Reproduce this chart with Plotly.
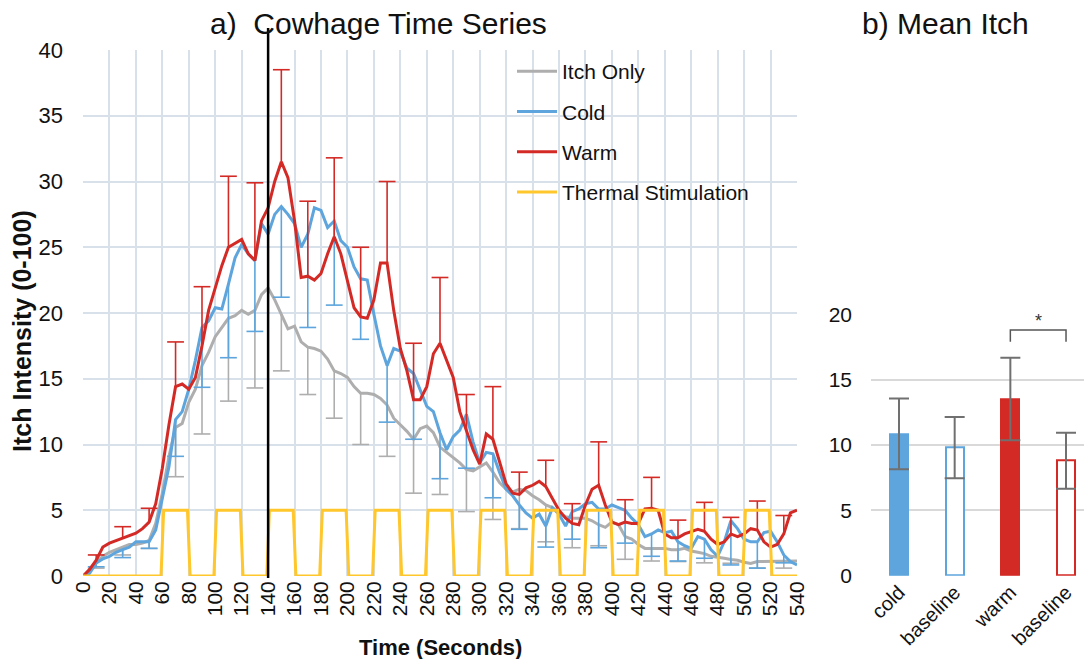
import plotly.graph_objects as go

# ---------------- data (panel a) ----------------
time_s = list(range(0, 545, 5))

itch_only = [0, 0.35, 1.0, 1.5, 1.8, 2.0, 2.2, 2.4, 2.4, 2.5,
             2.7, 4.0, 6.3, 9.1, 11.3, 11.6, 13.2, 14.2, 16.0, 17.0,
             18.2, 18.9, 19.6, 19.8, 20.2, 19.9, 20.2, 21.4, 21.9, 21.0,
             19.9, 18.8, 19.0, 17.8, 17.4, 17.3, 17.1, 16.5, 15.6, 15.4,
             15.1, 14.4, 13.9, 13.9, 13.8, 13.5, 13.0, 12.0, 11.5, 11.0,
             10.4, 11.2, 11.4, 10.9, 9.8, 9.4, 9.0, 8.6, 8.1, 8.0,
             8.3, 8.6, 7.9, 7.1, 6.6, 6.4, 6.6, 6.5, 6.1, 5.8,
             5.4, 5.2, 4.8, 4.5, 4.4, 4.4, 4.4, 4.2, 3.9, 3.7,
             4.1, 3.9, 3.0, 2.8, 2.4, 2.1, 2.1, 2.1, 2.1, 2.0,
             2.0, 2.1, 1.9, 1.8, 1.7, 1.5, 1.45, 1.35, 1.25, 1.2,
             1.05, 0.95, 1.1, 1.1, 1.15, 1.1, 1.1, 1.1, 1.14]

cold = [0, 0.2, 1.0, 1.3, 1.5, 1.8, 2.0, 2.2, 2.6, 2.6,
        2.6, 3.5, 5.8, 8.3, 11.9, 12.5, 14.2, 16.4, 18.9, 19.4,
        20.4, 20.3, 22.2, 24.2, 25.2, 24.5, 24.0, 26.8, 26.0, 27.5,
        28.1, 27.5, 26.8, 25.0, 26.0, 28.0, 27.8, 26.5, 27.0, 25.5,
        25.0, 23.5, 22.6, 22.5, 19.9, 17.5, 16.0, 17.3, 17.1, 15.8,
        15.4, 14.2, 12.9, 12.5, 10.9, 9.6, 10.6, 11.1, 12.3, 10.2,
        8.6, 9.4, 9.3, 7.9, 6.6, 6.1, 5.4, 4.8, 4.4, 4.7,
        3.8, 5.2, 4.7, 3.8, 4.9, 5.1, 5.5, 5.6, 5.1, 5.1,
        5.4, 5.2, 5.0, 4.4, 3.9, 3.0, 3.2, 3.5, 3.3, 3.4,
        2.6, 2.3, 2.1, 3.0, 2.8, 2.0, 1.5, 2.6, 4.2, 3.6,
        2.8, 2.6, 2.6, 3.3, 3.4, 2.6, 1.6, 1.1, 0.84]

warm = [0, 0.5, 1.2, 2.2, 2.5, 2.7, 2.9, 3.1, 3.25, 3.6,
        4.1, 5.5, 8.2, 11.5, 14.4, 14.6, 14.2, 15.1, 17.5, 20.2,
        22.0, 23.6, 25.0, 25.3, 25.6, 24.5, 24.0, 27.0, 28.0, 30.0,
        31.5, 30.3, 27.0, 22.7, 22.8, 22.5, 23.0, 24.5, 25.8, 24.5,
        22.5, 20.4, 19.7, 19.6, 21.0, 23.8, 23.8, 20.2, 17.3, 15.6,
        13.4, 13.4, 14.4, 16.9, 17.7, 16.4, 15.1, 12.5, 11.1, 9.6,
        8.5, 10.8, 10.4, 8.7, 7.0, 6.3, 6.2, 6.7, 6.9, 7.2,
        6.8, 5.9, 5.0, 4.4, 4.0, 3.9, 5.4, 6.6, 6.9, 5.4,
        4.1, 3.9, 4.1, 4.0, 4.0, 5.1, 5.15, 5.0, 3.2, 2.9,
        2.9, 3.2, 3.4, 3.55, 3.4, 2.8, 2.4, 2.6, 3.2, 3.0,
        3.2, 3.6, 3.5, 2.6, 2.2, 2.4, 3.2, 4.8, 5.0]

# error bars (one every 20 s)
err_t = list(range(10, 540, 20))
itch_only_err = [0.4, 0.6, 0.6, 3.75, 5.2, 6.3, 5.9, 4.3, 3.6, 3.6,
                 3.9, 3.9, 4.1, 3.6, 3.2, 3.6, 3.0, 2.8, 2.25, 1.6,
                 1.73, 0.96, 0.9, 0.7, 0.28, 0.5, 0.5]
cold_err = [0.3, 0.6, 0.5, 2.8, 4.55, 5.6, 5.4, 6.9, 7.1, 6.4,
            4.6, 4.3, 5.0, 3.5, 4.1, 3.35, 1.85, 1.6, 2.1, 2.95,
            2.5, 1.7, 1.46, 1.45, 3.36, 2.0, 0.6]
warm_err = [0.4, 0.85, 1.05, 3.4, 4.5, 5.4, 5.9, 7.0, 5.7, 6.0,
            5.3, 6.2, 4.3, 5.0, 2.7, 4.0, 1.7, 2.0, 1.5, 3.3,
            1.7, 2.35, 1.35, 2.2, 1.26, 2.2, 1.4]

stim_t = [0, 59, 61, 79, 81, 99, 101, 119, 121, 139, 141, 159, 161, 179, 181,
          199, 201, 219, 221, 239, 241, 259, 261, 279, 281, 299, 301, 319, 321,
          339, 341, 359, 361, 379, 381, 399, 401, 419, 421, 439, 441, 459, 461,
          479, 481, 499, 501, 519, 521, 540]
stim_v = [0, 0, 5, 5, 0, 0, 5, 5, 0, 0, 5, 5, 0, 0, 5,
          5, 0, 0, 5, 5, 0, 0, 5, 5, 0, 0, 5, 5, 0,
          0, 5, 5, 0, 0, 5, 5, 0, 0, 5, 5, 0, 0, 5,
          5, 0, 0, 5, 5, 0, 0]
event_t = 140

# ---------------- data (panel b) ----------------
bar_cats = ["cold", "baseline", "warm", "baseline"]
bar_vals = [10.85, 9.8, 13.52, 8.8]
bar_err = [2.7, 2.35, 3.16, 2.14]
sig_pair = [2, 3]
sig_y = [17.9, 18.8]
sig_label = "*"

# ---------------- styles ----------------
GRAY, BLUE, RED, YEL = "#AEAEAE", "#5DA5DC", "#D32A26", "#FFC72C"
FONT = "Arial, Liberation Sans, sans-serif"
W, H = 1084, 659

fig = go.Figure()

def add_series(name, y, color):
    fig.add_trace(go.Scatter(x=time_s, y=y, mode="lines", name=name,
                             legendgroup=name,
                             line=dict(color=color, width=3),
                             xaxis="x", yaxis="y"))

def add_err(y, err, color, up):
    lookup = dict(zip(time_s, y))
    base = [lookup[t] for t in err_t]
    ends = [b + e if up else b - e for b, e in zip(base, err)]
    zeros = [0] * len(err)
    fig.add_trace(go.Scatter(
        x=err_t, y=ends, mode="markers", showlegend=False, hoverinfo="skip",
        marker=dict(symbol="line-ew", size=12, color=color,
                    line=dict(color=color, width=1.6)),
        error_y=dict(type="data", symmetric=False,
                     array=zeros if up else err,
                     arrayminus=err if up else zeros,
                     color=color, thickness=1.6, width=0),
        xaxis="x", yaxis="y"))

add_err(itch_only, itch_only_err, GRAY, False)
add_series("Itch Only", itch_only, GRAY)
add_err(cold, cold_err, BLUE, False)
add_series("Cold", cold, BLUE)
add_series("Warm", warm, RED)
add_err(warm, warm_err, RED, True)
fig.add_trace(go.Scatter(x=stim_t, y=stim_v, mode="lines", name="Thermal Stimulation",
                         legendgroup="Thermal Stimulation",
                         line=dict(color=YEL, width=3), xaxis="x", yaxis="y"))

# panel b bars
fill = [BLUE, "white", RED, "white"]
edge = [BLUE, BLUE, RED, RED]
fig.add_trace(go.Bar(x=list(range(len(bar_cats))), y=bar_vals, width=0.32,
                     marker=dict(color=fill, line=dict(color=edge, width=2)),
                     error_y=dict(type="data", array=bar_err, color="#707070",
                                  thickness=2, width=10),
                     showlegend=False, xaxis="x2", yaxis="y2"))
fig.add_trace(go.Scatter(x=[sig_pair[0], sig_pair[0], sig_pair[1], sig_pair[1]],
                         y=[sig_y[0], sig_y[1], sig_y[1], sig_y[0]],
                         mode="lines", line=dict(color="#555555", width=1.5),
                         showlegend=False, hoverinfo="skip", xaxis="x2", yaxis="y2"))

def px_x(p):
    return p / W

def px_y(p):
    return 1 - p / H

grid = "#D8E0EA"
fig.update_layout(
    width=W, height=H, margin=dict(l=0, r=0, t=0, b=0, autoexpand=False),
    paper_bgcolor="white", plot_bgcolor="white",
    font=dict(family=FONT, size=20, color="#111111"),
    showlegend=True,
    legend=dict(x=px_x(512), y=px_y(51), xanchor="left", yanchor="top",
                bgcolor="rgba(0,0,0,0)", font=dict(size=21, color="#111111"),
                tracegroupgap=10, itemwidth=40),
    xaxis=dict(domain=[px_x(83), px_x(797)], range=[0, 540], dtick=20, tick0=0,
               showgrid=True, gridcolor=grid, gridwidth=2, zeroline=False,
               tickangle=-90, ticks="", showline=False, anchor="y",
               automargin=False, tickfont=dict(size=21)),
    yaxis=dict(domain=[px_y(576), px_y(50)], range=[0, 40], dtick=5,
               showgrid=True, gridcolor=grid, gridwidth=2, zeroline=False,
               ticks="", ticklabelstandoff=19, anchor="x", automargin=False,
               tickfont=dict(size=22)),
    xaxis2=dict(domain=[px_x(871), 1.0], range=[-0.503, 3.323],
                tickvals=list(range(len(bar_cats))), ticktext=bar_cats,
                tickangle=-45, showgrid=False, zeroline=False, ticks="",
                anchor="y2", automargin=False, tickfont=dict(size=20)),
    yaxis2=dict(domain=[px_y(575.7), px_y(314.3)], range=[0, 20], dtick=5,
                showgrid=True, gridcolor="#D9D9D9", gridwidth=1.5, zeroline=False,
                ticks="", ticklabelstandoff=18, anchor="x2", automargin=False,
                tickfont=dict(size=21)),
    bargap=0,
)

fig.add_shape(type="line", xref="x", yref="paper", x0=event_t, x1=event_t,
              y0=px_y(578), y1=px_y(28), line=dict(color="black", width=2.5))

def label(text, x, y, size, angle=0):
    fig.add_annotation(text=text, x=px_x(x), y=px_y(y), xref="paper", yref="paper",
                       xanchor="center", yanchor="middle", showarrow=False,
                       textangle=angle, font=dict(size=size, color="#111111"))

label("a)  Cowhage Time Series", 378, 24, 30)
label("b) Mean Itch", 945, 24, 30)
label("<b>Itch Intensity (0-100)</b>", 22, 331, 25, -90)
label("<b>Time (Seconds)</b>", 440, 647, 22)

fig.add_annotation(text=sig_label, x=sum(sig_pair) / 2, y=sig_y[1],
                   xref="x2", yref="y2", yanchor="bottom", yshift=-3,
                   showarrow=False, font=dict(size=18, color="#333333"))

fig.write_html("out.html", config={"displayModeBar": False},
               post_script="document.body.style.margin='0px';")
